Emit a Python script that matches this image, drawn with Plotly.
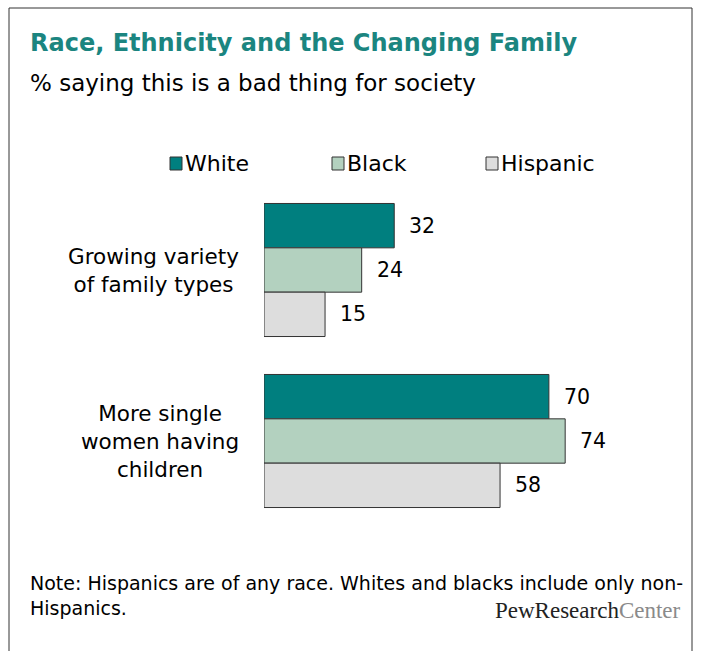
import plotly.graph_objects as go

W, H = 707, 651

# Survey data: % saying this is a bad thing for society
categories = ["Growing variety<br>of family types", "More single<br>women having<br>children"]
series_names = ["White", "Black", "Hispanic"]
white = [32, 70]
black = [24, 74]
hispanic = [15, 58]

colors = ["#007F7F", "#B3D1BF", "#DDDDDD"]
FONT = "DejaVu Sans, Tahoma, sans-serif"


def px(x):
    return x / W


def py(y):
    return 1 - y / H


fig = go.Figure()
for name, vals, col in zip(series_names, [white, black, hispanic], colors):
    fig.add_trace(go.Bar(
        y=list(range(len(categories))), x=vals, name=name, orientation="h",
        marker=dict(color=col, line=dict(color="#333333", width=1)),
        showlegend=False, hoverinfo="skip",
    ))

bar_px = 44.3
annotations = []
# value labels beside each bar
for k, vals in enumerate([white, black, hispanic]):
    for i, v in enumerate(vals):
        annotations.append(dict(
            x=v, y=i, xref="x", yref="y", text=str(v), showarrow=False,
            xanchor="left", yanchor="middle", xshift=13, yshift=(1 - k) * bar_px,
            font=dict(family=FONT, size=20.5, color="#000000"),
        ))

# category labels
for i, c in enumerate(categories):
    annotations.append(dict(
        x=px(241), y=i, xref="paper", yref="y", text=c, showarrow=False,
        xanchor="right", yanchor="middle", align="center",
        font=dict(family=FONT, size=21.5, color="#000000"),
    ))

# title and subtitle
annotations.append(dict(
    x=px(28), y=py(43), xref="paper", yref="paper", text="<b>Race, Ethnicity and the Changing Family</b>",
    showarrow=False, xanchor="left", yanchor="middle",
    font=dict(family=FONT, size=24, color="#1B8580"),
))
annotations.append(dict(
    x=px(28), y=py(83), xref="paper", yref="paper", text="% saying this is a bad thing for society",
    showarrow=False, xanchor="left", yanchor="middle",
    font=dict(family=FONT, size=23, color="#000000"),
))

# note and source
annotations.append(dict(
    x=px(28), y=py(595), xref="paper", yref="paper",
    text="Note: Hispanics are of any race. Whites and blacks include only non-<br>Hispanics.",
    showarrow=False, xanchor="left", yanchor="middle", align="left",
    font=dict(family=FONT, size=19, color="#000000"),
))
annotations.append(dict(
    x=px(683), y=py(610), xref="paper", yref="paper",
    text="PewResearch<span style='color:#8a8a8a'>Center</span>",
    showarrow=False, xanchor="right", yanchor="middle",
    font=dict(family="Liberation Serif, serif", size=23, color="#222222"),
))

shapes = []
# legend swatches and labels
legend_x = [170, 332, 486]
for name, col, lx in zip(series_names, colors, legend_x):
    shapes.append(dict(
        type="rect", xref="paper", yref="paper",
        x0=px(lx), x1=px(lx + 12), y0=py(170), y1=py(157),
        fillcolor=col, line=dict(color="#333333", width=1),
    ))
    annotations.append(dict(
        x=px(lx + 13), y=py(163), xref="paper", yref="paper", text=name,
        showarrow=False, xanchor="left", yanchor="middle",
        font=dict(family=FONT, size=22, color="#000000"),
    ))

# outer frame
shapes.append(dict(
    type="rect", xref="paper", yref="paper",
    x0=px(9), x1=px(692), y0=py(8), y1=py(H + 10),
    line=dict(color="#333333", width=1), fillcolor="rgba(0,0,0,0)",
))

unit = 4.07  # pixels per percentage point
x0 = 264
fig.update_layout(
    width=W, height=H,
    margin=dict(l=0, r=0, t=0, b=0),
    paper_bgcolor="white", plot_bgcolor="white",
    barmode="group", bargap=0.222, bargroupgap=0,
    xaxis=dict(domain=[px(x0), px(x0 + 100 * unit)], range=[0, 100],
               visible=False, fixedrange=True),
    yaxis=dict(domain=[py(526.5), py(184.5)], range=[1.5, -0.5],
               visible=False, fixedrange=True),
    annotations=annotations, shapes=shapes,
    showlegend=False,
)

fig.write_html("out.html")
